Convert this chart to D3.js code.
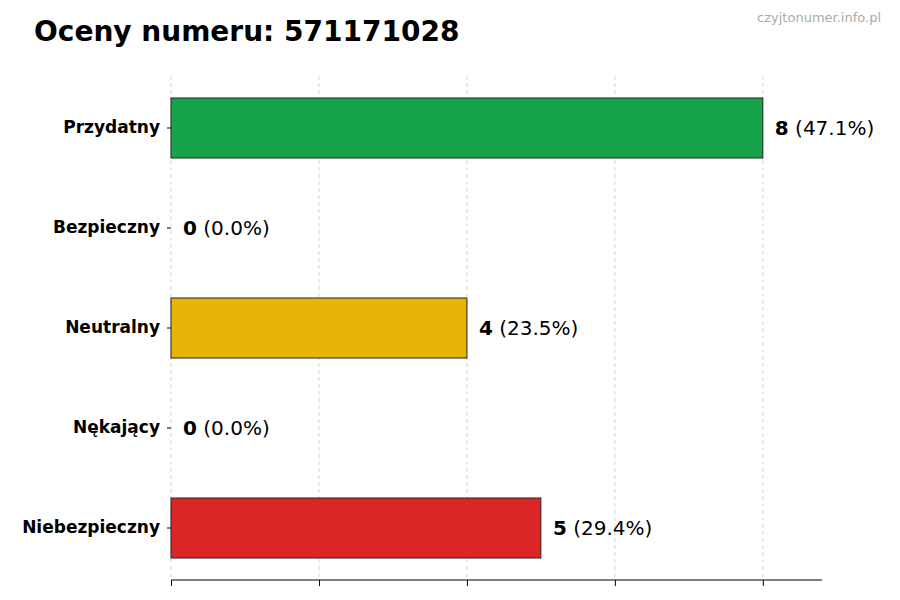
<!DOCTYPE html>
<html><head><meta charset="utf-8">
<script src="https://cdn.jsdelivr.net/npm/d3@7/dist/d3.min.js"></script>
<style>body{margin:0;background:#fff;font-family:"DejaVu Sans",sans-serif}</style>
</head><body><svg id="c" width="900" height="600"></svg>
<script>
const categories=["Przydatny","Bezpieczny","Neutralny","Nękający","Niebezpieczny"];
const values=[8,0,4,0,5];
const colors=["#16a34a","#6b7280","#eab308","#9ca3af","#dc2626"];
const xTicks=[0,2,4,6,8];
const total=d3.sum(values);
const svg=d3.select("#c");
const x=d3.scaleLinear().domain([0,8.8]).range([171,822]);
const y=d3.scaleBand().domain(categories).range([78,578]).paddingInner(0.4).paddingOuter(0.2);
svg.append("text").attr("x",34).attr("y",41).attr("font-size",28).attr("font-weight","bold").text("Oceny numeru: 571171028");
svg.append("text").attr("x",881).attr("y",22).attr("text-anchor","end").attr("font-size",13).attr("fill","#aaa").text("czyjtonumer.info.pl");
svg.selectAll(".g").data(xTicks).enter().append("line").attr("x1",d=>x(d)).attr("x2",d=>x(d)).attr("y1",76).attr("y2",580).attr("stroke","#ccc").attr("stroke-dasharray","4,3").attr("stroke-width",0.8);
svg.selectAll(".b").data(values).enter().append("rect").attr("x",x(0)).attr("y",(d,i)=>y(categories[i])).attr("width",d=>x(d)-x(0)).attr("height",y.bandwidth()).attr("fill",(d,i)=>colors[i]).attr("stroke","#222").attr("stroke-width",1);
const lab=svg.selectAll(".l").data(values).enter().append("text").attr("x",d=>x(d)+12).attr("y",(d,i)=>y(categories[i])+y.bandwidth()/2+7).attr("font-size",20);
lab.append("tspan").attr("font-weight","bold").text(d=>d);
lab.append("tspan").text(d=>" ("+(d/total*100).toFixed(1)+"%)");
const ax=svg.append("g").attr("transform","translate(0,580)").call(d3.axisBottom(x).tickValues(xTicks).tickFormat("").tickSize(6));
ax.select(".domain").attr("d","M171,0H822");
const ay=svg.append("g").attr("transform","translate(171,0)").call(d3.axisLeft(y).tickSize(4).tickPadding(7));
ay.select(".domain").remove();
ay.selectAll("text").attr("font-size",17).attr("font-weight","bold").attr("fill","#000").attr("font-family","DejaVu Sans");
</script></body></html>
